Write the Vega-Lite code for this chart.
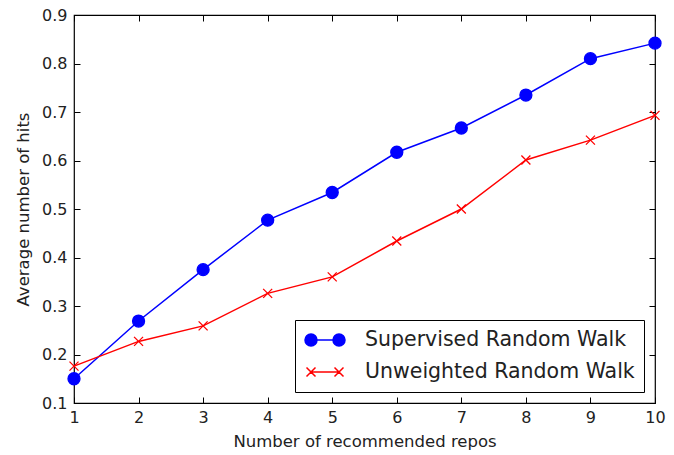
{
  "$schema": "https://vega.github.io/schema/vega-lite/v6.json",
  "width": 581,
  "height": 388,
  "autosize": {"type": "none"},
  "padding": {"left": 74, "top": 15, "right": 19, "bottom": 52},
  "background": "white",
  "config": {
    "font": "DejaVu Sans",
    "view": {"stroke": "#000", "strokeWidth": 1.2},
    "axis": {
      "domain": false, "grid": false, "tickColor": "#000", "tickSize": -6, "tickWidth": 1, "labelFlush": false,
      "labelFont": "DejaVu Sans", "labelFontSize": 16, "labelColor": "#222",
      "titleFont": "DejaVu Sans", "titleFontSize": 16.5, "titleFontWeight": "normal", "titleColor": "#222"
    },
    "legend": {
      "orient": "bottom-right", "offset": 11,
      "symbolSize": 400, "symbolStrokeWidth": 1.5, "symbolOpacity": 1,
      "labelFont": "DejaVu Sans", "labelFontSize": 20.5, "labelColor": "#222", "labelLimit": 400,
      "labelOffset": 39, "rowPadding": 10,
      "strokeColor": "#000", "fillColor": "white", "padding": 9
    }
  },
  "data": {"values": [
    {"n": 1, "hits": 0.150, "series": "Supervised Random Walk"},
    {"n": 2, "hits": 0.269, "series": "Supervised Random Walk"},
    {"n": 3, "hits": 0.375, "series": "Supervised Random Walk"},
    {"n": 4, "hits": 0.477, "series": "Supervised Random Walk"},
    {"n": 5, "hits": 0.534, "series": "Supervised Random Walk"},
    {"n": 6, "hits": 0.617, "series": "Supervised Random Walk"},
    {"n": 7, "hits": 0.667, "series": "Supervised Random Walk"},
    {"n": 8, "hits": 0.735, "series": "Supervised Random Walk"},
    {"n": 9, "hits": 0.810, "series": "Supervised Random Walk"},
    {"n": 10, "hits": 0.842, "series": "Supervised Random Walk"},
    {"n": 1, "hits": 0.176, "series": "Unweighted Random Walk"},
    {"n": 2, "hits": 0.227, "series": "Unweighted Random Walk"},
    {"n": 3, "hits": 0.259, "series": "Unweighted Random Walk"},
    {"n": 4, "hits": 0.326, "series": "Unweighted Random Walk"},
    {"n": 5, "hits": 0.360, "series": "Unweighted Random Walk"},
    {"n": 6, "hits": 0.434, "series": "Unweighted Random Walk"},
    {"n": 7, "hits": 0.500, "series": "Unweighted Random Walk"},
    {"n": 8, "hits": 0.601, "series": "Unweighted Random Walk"},
    {"n": 9, "hits": 0.642, "series": "Unweighted Random Walk"},
    {"n": 10, "hits": 0.693, "series": "Unweighted Random Walk"}
  ]},
  "resolve": {"axis": {"x": "independent", "y": "independent"}},
  "layer": [
    {
      "mark": {"type": "line", "strokeWidth": 1.5},
      "encoding": {
        "x": {"field": "n", "type": "quantitative", "scale": {"domain": [1, 10], "nice": false},
              "axis": {"title": "Number of recommended repos", "values": [1,2,3,4,5,6,7,8,9,10], "labelPadding": 12, "titlePadding": 8}},
        "y": {"field": "hits", "type": "quantitative", "scale": {"domain": [0.1, 0.9], "nice": false, "zero": false},
              "axis": {"title": "Average number of hits", "values": [0.1,0.2,0.3,0.4,0.5,0.6,0.7,0.8,0.9], "format": ".1f", "labelPadding": 13, "titlePadding": 10}},
        "stroke": {"field": "series", "type": "nominal", "title": null,
                   "scale": {"domain": ["Supervised Random Walk", "Unweighted Random Walk"], "range": ["#0000ff", "#ff0000"]}},
        "detail": {"field": "series"}
      }
    },
    {
      "mark": {"type": "point", "filled": false, "strokeWidth": 1.3, "opacity": 1},
      "encoding": {
        "x": {"field": "n", "type": "quantitative", "axis": {"orient": "top", "labels": false, "title": null, "values": [1,2,3,4,5,6,7,8,9,10]}},
        "y": {"field": "hits", "type": "quantitative", "axis": {"orient": "right", "labels": false, "title": null, "values": [0.1,0.2,0.3,0.4,0.5,0.6,0.7,0.8,0.9]}},
        "stroke": {"field": "series", "type": "nominal", "title": null},
        "fill": {"field": "series", "type": "nominal", "title": null,
                 "scale": {"domain": ["Supervised Random Walk", "Unweighted Random Walk"], "range": ["#0000ff", "rgba(0,0,0,0)"]}},
        "shape": {"condition": {"test": "datum.series === 'Supervised Random Walk'", "value": "circle"}, "value": "M-1,-1L1,1M-1,1L1,-1"},
        "size": {"condition": {"test": "datum.series === 'Supervised Random Walk'", "value": 144}, "value": 81}
      }
    },
    {
      "mark": {"type": "point", "filled": false, "strokeWidth": 1.5, "opacity": 0},
      "encoding": {
        "x": {"field": "n", "type": "quantitative", "axis": null},
        "y": {"field": "hits", "type": "quantitative", "axis": null},
        "shape": {"field": "series", "type": "nominal", "title": null,
                  "scale": {"domain": ["Supervised Random Walk", "Unweighted Random Walk"],
                            "range": ["M-0.4,0L2.4,0M-1,0A0.6,0.6 0 1,0 0.2,0A0.6,0.6 0 1,0 -1,0ZM1.8,0A0.6,0.6 0 1,0 3,0A0.6,0.6 0 1,0 1.8,0Z",
                                      "M-0.4,0L2.4,0M-0.85,-0.45L0.05,0.45M-0.85,0.45L0.05,-0.45M1.95,-0.45L2.85,0.45M1.95,0.45L2.85,-0.45"]}},
        "stroke": {"field": "series", "type": "nominal", "title": null},
        "fill": {"field": "series", "type": "nominal", "title": null}
      }
    }
  ]
}
